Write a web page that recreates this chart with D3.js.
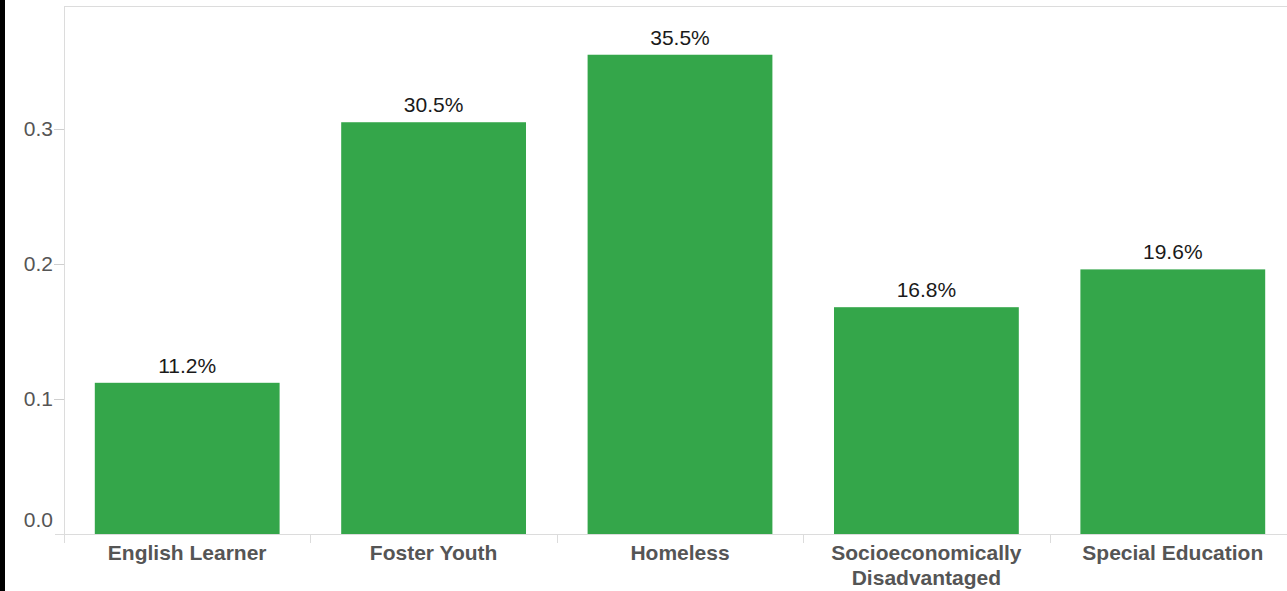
<!DOCTYPE html>
<html><head><meta charset="utf-8">
<script src="https://cdn.jsdelivr.net/npm/d3@7"></script>
<style>
html,body{margin:0;padding:0;background:#fff;}
svg{display:block;font-family:"Liberation Sans",Arial,sans-serif;}
</style></head>
<body>
<svg id="chart" width="1287" height="591"></svg>
<script>
const categories = ["English Learner","Foster Youth","Homeless","Socioeconomically Disadvantaged","Special Education"];
const categoryLines = [["English Learner"],["Foster Youth"],["Homeless"],["Socioeconomically","Disadvantaged"],["Special Education"]];
const values = [0.112,0.305,0.355,0.168,0.196];
const valueLabels = ["11.2%","30.5%","35.5%","16.8%","19.6%"];
const yTicks = [0.0,0.1,0.2,0.3];

(function(){
const svg = d3.select("#chart");
const W = 1287, H = 591;
const mLeft = 64, mTop = 6, mBottom = 534;

// black strip at left edge
svg.append("rect").attr("x",0).attr("y",0).attr("width",5).attr("height",H).attr("fill","#000");

const x = d3.scaleBand().domain(categories).range([mLeft, mLeft + 5*246.4]).paddingInner(0.25).paddingOuter(0.125);
const y = d3.scaleLinear().domain([0, 0.3911]).range([mBottom, mTop]);

// frame
svg.append("line").attr("x1",mLeft+0.5).attr("x2",mLeft+0.5).attr("y1",mTop).attr("y2",mBottom+8).attr("stroke","#dcdcdc");
svg.append("line").attr("x1",mLeft).attr("x2",W).attr("y1",mTop+0.5).attr("y2",mTop+0.5).attr("stroke","#dcdcdc");
svg.append("line").attr("x1",55).attr("x2",W).attr("y1",mBottom+0.5).attr("y2",mBottom+0.5).attr("stroke","#dcdcdc");

// y ticks
const yt = svg.append("g");
yTicks.forEach(t => {
  if (t > 0) {
    yt.append("line").attr("x1",54).attr("x2",mLeft).attr("y1",Math.round(y(t))+0.5).attr("y2",Math.round(y(t))+0.5).attr("stroke","#cfcfcf");
  }
  yt.append("text").attr("x",53).attr("y", t === 0 ? y(t) - 7 : y(t)).attr("dy", t === 0 ? 0 : "0.35em")
    .attr("text-anchor","end").attr("font-size",21).attr("fill","#555").text(d3.format(".1f")(t));
});

// category ticks (band boundaries)
const step = x.step();
for (let i = 0; i <= categories.length; i++) {
  const xx = Math.round(mLeft + i*step) + 0.5;
  svg.append("line").attr("x1",xx).attr("x2",xx).attr("y1",mBottom).attr("y2",mBottom+9).attr("stroke","#dcdcdc");
}

// bars
svg.selectAll("rect.bar").data(values).enter().append("rect").attr("class","bar")
  .attr("x",(d,i)=>x(categories[i])).attr("width",x.bandwidth())
  .attr("y",d=>y(d)).attr("height",d=>mBottom - y(d)).attr("fill","#34a64a");

// value labels
svg.selectAll("text.val").data(values).enter().append("text").attr("class","val")
  .attr("x",(d,i)=>x(categories[i]) + x.bandwidth()/2).attr("y",d=>y(d) - 10)
  .attr("text-anchor","middle").attr("font-size",21).attr("fill","#1a1a1a").text((d,i)=>valueLabels[i]);

// category labels
categoryLines.forEach((lines,i) => {
  const cx = x(categories[i]) + x.bandwidth()/2;
  const t = svg.append("text").attr("x", cx).attr("y",560)
    .attr("text-anchor","middle").attr("font-size",21).attr("font-weight","bold").attr("fill","#555");
  lines.forEach((l,j) => t.append("tspan").attr("x", cx).attr("dy", j===0?0:25).text(l));
});
})();
</script>
</body></html>
